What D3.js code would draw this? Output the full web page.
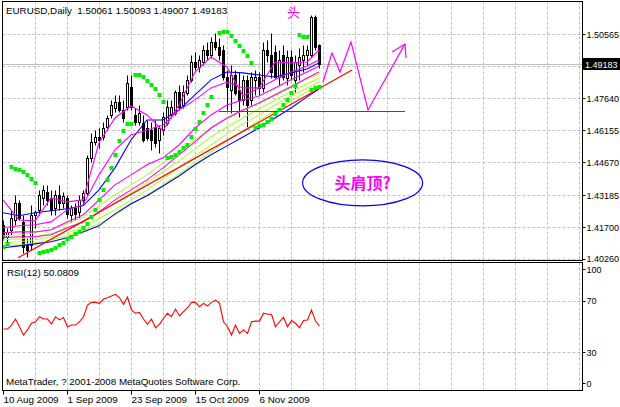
<!DOCTYPE html>
<html><head><meta charset="utf-8">
<script src="https://cdn.jsdelivr.net/npm/d3@7"></script>
<style>body{margin:0;background:#fff}svg{display:block}text{font-family:"Liberation Sans",Arial,sans-serif}</style>
</head><body>
<svg id="c" width="620" height="407"></svg>
<script>
// ---------- data ----------
const opens  = [1.4181,1.4126,1.4158,1.4204,1.4281,1.4194,1.4089,1.4089,1.4226,1.4249,1.4304,1.4332,1.4304,1.4259,1.4318,1.4281,1.4304,1.4226,1.4259,1.4240,1.4295,1.4327,1.4488,1.4561,1.4584,1.4584,1.4630,1.4685,1.4717,1.4745,1.4708,1.4722,1.4814,1.4685,1.4653,1.4648,1.4625,1.4616,1.4630,1.4570,1.4616,1.4648,1.4685,1.4694,1.4791,1.4731,1.4786,1.4846,1.4928,1.4905,1.4928,1.4983,1.4960,1.5020,1.4997,1.4983,1.4859,1.4800,1.4868,1.4800,1.4754,1.4846,1.4754,1.4846,1.4859,1.4809,1.4983,1.4960,1.4974,1.4859,1.4960,1.4855,1.4951,1.4846,1.4914,1.4937,1.4960,1.4960,1.5134,1.50061];
const highs  = [1.4204,1.4167,1.4249,1.4318,1.4295,1.4226,1.4121,1.4272,1.4249,1.4341,1.4364,1.4364,1.4341,1.4341,1.4364,1.4332,1.4318,1.4272,1.4281,1.4318,1.4341,1.4502,1.4603,1.4616,1.4625,1.4653,1.4685,1.4754,1.4777,1.4777,1.4754,1.4868,1.4868,1.4717,1.4731,1.4685,1.4662,1.4653,1.4662,1.4639,1.4699,1.4754,1.4754,1.4800,1.4823,1.4823,1.4868,1.4960,1.4974,1.4960,1.5006,1.5020,1.5043,1.5061,1.5038,1.5006,1.4891,1.4914,1.4891,1.4882,1.4868,1.4868,1.4882,1.4891,1.4882,1.5020,1.5029,1.5061,1.5006,1.4983,1.5006,1.4983,1.4983,1.4960,1.4992,1.5006,1.5006,1.5144,1.5144,1.50093];
const lows   = [1.4112,1.4089,1.4135,1.4181,1.4204,1.4052,1.4034,1.4066,1.4167,1.4226,1.4272,1.4272,1.4226,1.4226,1.4249,1.4259,1.4213,1.4194,1.4204,1.4213,1.4272,1.4318,1.4470,1.4548,1.4534,1.4570,1.4616,1.4671,1.4699,1.4699,1.4653,1.4708,1.4708,1.4639,1.4639,1.4561,1.4570,1.4525,1.4538,1.4511,1.4593,1.4639,1.4671,1.4685,1.4708,1.4717,1.4777,1.4836,1.4891,1.4882,1.4914,1.4937,1.4946,1.4983,1.4937,1.4846,1.4708,1.4694,1.4777,1.4676,1.4731,1.4630,1.4731,1.4777,1.4777,1.4791,1.4928,1.4855,1.4855,1.4823,1.4846,1.4823,1.4846,1.4791,1.4846,1.4882,1.4914,1.4951,1.4983,1.49007];
const closes = [1.4126,1.4148,1.4213,1.4281,1.4213,1.4080,1.4066,1.4226,1.4240,1.4318,1.4341,1.4295,1.4249,1.4318,1.4281,1.4314,1.4231,1.4259,1.4231,1.4295,1.4327,1.4488,1.4561,1.4584,1.4570,1.4625,1.4671,1.4731,1.4745,1.4708,1.4671,1.4832,1.4722,1.4653,1.4694,1.4570,1.4580,1.4570,1.4557,1.4625,1.4676,1.4722,1.4722,1.4791,1.4722,1.4791,1.4846,1.4928,1.4905,1.4937,1.4983,1.4960,1.5020,1.4997,1.4960,1.4859,1.4814,1.4868,1.4786,1.4754,1.4846,1.4731,1.4859,1.4859,1.4809,1.4983,1.4960,1.4882,1.4859,1.4937,1.4859,1.4951,1.4868,1.4928,1.4951,1.4960,1.4983,1.5134,1.4997,1.49183];
const rsi = [47.9,47.9,51,55.7,49.7,43.2,47.2,52.4,53.6,57.5,55.7,55.7,51.8,57.5,55,56.8,49.7,51,51,53.6,57.5,66.6,68.7,68.7,67.9,71.3,72.3,73.6,75,72.3,67.2,72.9,62.7,60.2,60.9,55.7,51.6,55.7,48.9,51.6,56.3,60.2,57.5,63.5,58.1,61.4,64.5,68.7,68.7,65.3,67.9,65.8,68.7,70.5,67.9,53.6,49.7,43.2,51,44.5,47.2,44.5,53.6,54.1,54.1,60.2,59.4,59.4,49.7,53.6,57.1,49.7,54.5,52.4,48.9,54.5,55,62.7,54.1,50.08];
// parabolic SAR dots: bar index, price
const sarBar = [0,1,2,3,4,5,6,7,8,9,10,11,12,13,14,15,16,17,18,19,20,21,22,23,24,25,26,27,28,29,30,31,32,33,34,35,36,37,38,39,40,41,42,43,44,45,46,47,48,49,50,51,52,54,55,56,57,58,59,60,61,62,63,64,65,66,67,68,69,70,71,72,73,74,75,76,77,78,79];
const sarVal = [1.4080,1.4093,1.4447,1.4437,1.4433,1.4424,1.4410,1.4392,1.4373,1.4052,1.4057,1.4061,1.4066,1.4075,1.4089,1.4098,1.4116,1.4126,1.4139,1.4148,1.4167,1.4185,1.4215,1.4250,1.4295,1.4341,1.4387,1.4442,1.4502,1.4566,1.4612,1.4644,1.4644,1.4868,1.4868,1.4859,1.4841,1.4823,1.4804,1.4777,1.4745,1.4488,1.4492,1.4502,1.4515,1.4534,1.4547,1.4584,1.4621,1.4653,1.4694,1.4731,1.4768,1.5061,1.5066,1.5066,1.5047,1.5024,1.5001,1.4978,1.4955,1.4924,1.4625,1.4635,1.4639,1.4653,1.4667,1.4690,1.4708,1.4731,1.4754,1.4786,1.4818,1.5052,1.5043,1.5043,1.4800,1.4809,1.4813];
// indicator lines sampled every 4 bars
const lineBars = [0,4,8,12,16,20,24,28,32,36,40,44,48,52,56,60,64,68,72,76,79];
const maFast  = [1.4295,1.4203,1.4199,1.4304,1.4286,1.4295,1.4557,1.4671,1.4726,1.4685,1.4612,1.4731,1.4882,1.4951,1.4905,1.4772,1.4809,1.4928,1.4924,1.4928,1.4983];
const maMid1  = [1.4167,1.4176,1.4181,1.4194,1.4249,1.4272,1.4410,1.4525,1.4593,1.4616,1.4639,1.4708,1.4754,1.4809,1.4836,1.4809,1.4809,1.4846,1.4882,1.4910,1.4937];
const maMid2  = [1.4144,1.4148,1.4148,1.4158,1.4194,1.4226,1.4295,1.4364,1.4410,1.4456,1.4488,1.4547,1.4625,1.4685,1.4731,1.4754,1.4772,1.4809,1.4846,1.4882,1.4910];
const maMid3  = [1.4121,1.4126,1.4126,1.4135,1.4167,1.4194,1.4240,1.4295,1.4341,1.4387,1.4442,1.4502,1.4561,1.4625,1.4671,1.4708,1.4740,1.4777,1.4813,1.4855,1.4882];
const maLong1 = [1.4130,1.4135,1.4144,1.4158,1.4185,1.4215,1.4268,1.4318,1.4364,1.4410,1.4465,1.4515,1.4570,1.4625,1.4667,1.4703,1.4740,1.4781,1.4818,1.4850,1.4873];
const maLong2 = [1.4112,1.4116,1.4126,1.4139,1.4162,1.4190,1.4236,1.4282,1.4327,1.4373,1.4424,1.4474,1.4529,1.4584,1.4630,1.4671,1.4712,1.4754,1.4791,1.4827,1.4855];
const maLong3 = [1.4098,1.4103,1.4112,1.4126,1.4144,1.4167,1.4208,1.4250,1.4295,1.4341,1.4392,1.4442,1.4497,1.4547,1.4598,1.4644,1.4685,1.4731,1.4772,1.4809,1.4836];
const maLong4 = [1.4084,1.4089,1.4098,1.4112,1.4130,1.4153,1.4185,1.4226,1.4272,1.4318,1.4364,1.4414,1.4465,1.4515,1.4566,1.4612,1.4658,1.4703,1.4749,1.4791,1.4818];
const blueUpper = [1.4236,1.4222,1.4236,1.4245,1.4254,1.4268,1.4341,1.4442,1.4570,1.4662,1.4662,1.4708,1.4777,1.4846,1.4882,1.4878,1.4868,1.4859,1.4878,1.4896,1.4924];
const blueLower = [1.4075,1.4084,1.4093,1.4103,1.4121,1.4148,1.4176,1.4231,1.4277,1.4314,1.4359,1.4405,1.4456,1.4502,1.4543,1.4584,1.4625,1.4671,1.4717,1.4768,1.4804];
// drawn objects (bar index, price)
const trendBars = [3.75, 87.25], trendVals = [1.4029, 1.4891];
const levelBars = [54, 100.5], levelVal = 1.4703;
const pathBars = [80, 82.25, 84.25, 87, 91.25, 100.5];
const pathVals = [1.4836, 1.4969, 1.4882, 1.5020, 1.4708, 1.5011];
const arrowBars = [97.25, 100.75], arrowVals = [1.4974, 1.4946];
const headBar = 71, headVal = 1.5133;
const ellBar = 89.9, ellVal = 1.4373;
// axes
const priceTicks = [1.50565, 1.49095, 1.47640, 1.46155, 1.44670, 1.43185, 1.41700, 1.40260];
const priceLabels = ["1.50565", "", "1.47640", "1.46155", "1.44670", "1.43185", "1.41700", "1.40260"];
const lastPrice = 1.49183;
const rsiTicks = [100, 70, 30, 0];
const rsiGrid = [70, 30];
const dateBars = [0, 16, 32, 48, 64];
const dateLabels = ["10 Aug 2009", "1 Sep 2009", "23 Sep 2009", "15 Oct 2009", "6 Nov 2009"];
const title = "EURUSD,Daily  1.50061 1.50093 1.49007 1.49183";
const rsiTitle = "RSI(12) 50.0809";
const credit = "MetaTrader, ? 2001-2008 MetaQuotes Software Corp.";

// ---------- scales ----------
const svg = d3.select('#c');
const x = d3.scaleLinear().domain([0, 144.75]).range([3, 582]);
const y = d3.scaleLinear().domain([1.40260, 1.50565]).range([258.5, 34]);
const yr = d3.scaleLinear().domain([0, 100]).range([390.5, 262.2]);
const cx = i => Math.round(x(i)) + 0.5;
const ry = v => Math.round(y(v)) + 0.5;
const L = 2.5, R = 582.5, T = 1.5, MB = 260.5, RT = 262.5, RB = 390.5;

svg.append('rect').attr('width',620).attr('height',407).attr('fill','#fff');
const defs = svg.append('defs');
defs.append('clipPath').attr('id','cm').append('rect').attr('x',L).attr('y',T).attr('width',R-L).attr('height',MB-T);
defs.append('clipPath').attr('id','cr').append('rect').attr('x',L).attr('y',RT).attr('width',R-L).attr('height',RB-RT);

// grid
const gridBars = d3.range(8, 145, 8);
const grid = svg.append('g').attr('stroke','#c0c0c0').attr('stroke-dasharray','3,2').attr('stroke-width',1);
grid.selectAll('.gv').data(gridBars).join('line').attr('x1',d=>cx(d)).attr('x2',d=>cx(d)).attr('y1',T).attr('y2',MB);
grid.selectAll('.gr').data(gridBars).join('line').attr('class','gr').attr('x1',d=>cx(d)).attr('x2',d=>cx(d)).attr('y1',RT).attr('y2',RB);
grid.selectAll('.gh').data(priceTicks).join('line').attr('class','gh').attr('x1',L).attr('x2',R).attr('y1',d=>ry(d)).attr('y2',d=>ry(d));
grid.selectAll('.gq').data(rsiGrid).join('line').attr('class','gq').attr('x1',L).attr('x2',R).attr('y1',d=>Math.round(yr(d))+0.5).attr('y2',d=>Math.round(yr(d))+0.5);

const main = svg.append('g').attr('clip-path','url(#cm)');
// bid line
main.append('line').attr('x1',L).attr('x2',R).attr('y1',ry(lastPrice)).attr('y2',ry(lastPrice)).attr('stroke','#c0c0c0');

// candles
const bars = d3.range(closes.length);
main.selectAll('.wick').data(bars).join('line').attr('x1',cx).attr('x2',cx)
  .attr('y1',i=>ry(highs[i])).attr('y2',i=>ry(lows[i])).attr('stroke','#000');
main.selectAll('.body').data(bars).join('rect')
  .attr('x',i=>cx(i)-1).attr('width',2)
  .attr('y',i=>Math.min(ry(opens[i]),ry(closes[i])))
  .attr('height',i=>Math.max(0.01,Math.abs(ry(opens[i])-ry(closes[i]))))
  .attr('fill',i=>closes[i]>=opens[i]?'#fff':'#000').attr('stroke','#000');

// indicator lines
const line = d3.line().x((d,k)=>x(lineBars[k])).y(d=>y(d)).curve(d3.curveLinear);
const series = [[maLong1,'#adff2f'],[maLong2,'#adff2f'],[maLong3,'#adff2f'],[maLong4,'#adff2f'],
  [blueLower,'#0000ff'],[blueUpper,'#0000ff'],[maMid3,'#ff00ff'],[maMid2,'#ff00ff'],[maMid1,'#ff00ff'],[maFast,'#ff00ff']];
main.selectAll('.ma').data(series).join('path').attr('d',d=>line(d[0])).attr('fill','none').attr('stroke',d=>d[1]).attr('stroke-width',1.1);

// trendline and level
main.append('line').attr('x1',x(trendBars[0])).attr('y1',y(trendVals[0])).attr('x2',x(trendBars[1])).attr('y2',y(trendVals[1])).attr('stroke','#ff0000').attr('stroke-width',1.2);
main.append('line').attr('x1',x(levelBars[0])).attr('x2',x(levelBars[1])).attr('y1',ry(levelVal)).attr('y2',ry(levelVal)).attr('stroke','#ff0000');

// SAR
main.selectAll('.sar').data(sarBar).join('rect')
  .attr('x',(d)=>cx(d)-2).attr('y',(d,k)=>Math.round(y(sarVal[k]))-2).attr('width',4).attr('height',4).attr('fill','#00ee00');

// head & shoulders projection
const pl = d3.line().x((d,k)=>x(pathBars[k])).y(d=>y(d));
main.append('path').attr('d',pl(pathVals)).attr('fill','none').attr('stroke','#ff00ff').attr('stroke-width',1.2);
const tipX = x(pathBars[pathBars.length-1]), tipY = y(pathVals[pathVals.length-1]);
arrowBars.forEach((b,k)=>{
  main.append('line').attr('x1',tipX).attr('y1',tipY).attr('x2',x(b)).attr('y2',y(arrowVals[k])).attr('stroke','#ff00ff').attr('stroke-width',1.2);
});
main.append('text').attr('x',x(headBar)).attr('y',y(headVal)).attr('fill','#ff00ff')
  .style('font-family','"Noto Sans CJK SC"').attr('font-size',13).text('头');
main.append('ellipse').attr('cx',x(ellBar)).attr('cy',y(ellVal)).attr('rx',60).attr('ry',23)
  .attr('fill','none').attr('stroke','#0000ff').attr('stroke-width',1.2);
main.append('text').attr('x',x(ellBar)).attr('y',y(ellVal)+6).attr('text-anchor','middle').attr('fill','#ff00ff')
  .style('font-family','"Noto Sans CJK SC"').attr('font-weight','bold').attr('font-size',16).text('头肩顶?');

// RSI
const rl = d3.line().x((d,i)=>cx(i)).y(d=>yr(d));
svg.append('g').attr('clip-path','url(#cr)').append('path').attr('d',rl(rsi)).attr('fill','none').attr('stroke','#ff0000').attr('stroke-width',1.1);

// frames
const fr = svg.append('g').attr('fill','none').attr('stroke','#000');
fr.append('rect').attr('x',L).attr('y',T).attr('width',R-L).attr('height',MB-T);
fr.append('rect').attr('x',L).attr('y',RT).attr('width',R-L).attr('height',RB-RT);

// right axis
const ax = svg.append('g').attr('font-size',9.8).attr('fill','#000');
const rax = svg.append('g').attr('font-size',9).attr('fill','#000');
priceTicks.forEach((p,k)=>{
  if(!priceLabels[k]) return;
  rax.append('line').attr('x1',R).attr('x2',R+3).attr('y1',ry(p)).attr('y2',ry(p)).attr('stroke','#000');
  rax.append('text').attr('x',586.5).attr('y',Math.min(ry(p),258)+3.5).text(priceLabels[k]);
});
rax.append('rect').attr('x',583).attr('y',ry(lastPrice)-6.5).attr('width',37).attr('height',12).attr('fill','#000');
rax.append('text').attr('x',585).attr('y',ry(lastPrice)+3.5).attr('fill','#fff').text(d3.format('.5f')(lastPrice));
rsiTicks.forEach(v=>{
  const yy = Math.max(269, Math.min(383, yr(v)));
  rax.append('line').attr('x1',R).attr('x2',R+3).attr('y1',Math.round(yy)+0.5).attr('y2',Math.round(yy)+0.5).attr('stroke','#000');
  rax.append('text').attr('x',586.5).attr('y',yy+3.5).text(v);
});
// bottom axis
dateBars.forEach((b,k)=>{
  ax.append('line').attr('x1',cx(b)).attr('x2',cx(b)).attr('y1',RB).attr('y2',RB+4).attr('stroke','#000');
  ax.append('text').attr('x',cx(b)).attr('y',403).text(dateLabels[k]);
});
// titles
ax.append('text').attr('x',6).attr('y',14).text(title).attr('xml:space','preserve').style('white-space','pre');
ax.append('text').attr('x',7).attr('y',276).text(rsiTitle);
ax.append('text').attr('x',6).attr('y',385).text(credit);
</script>
</body></html>
